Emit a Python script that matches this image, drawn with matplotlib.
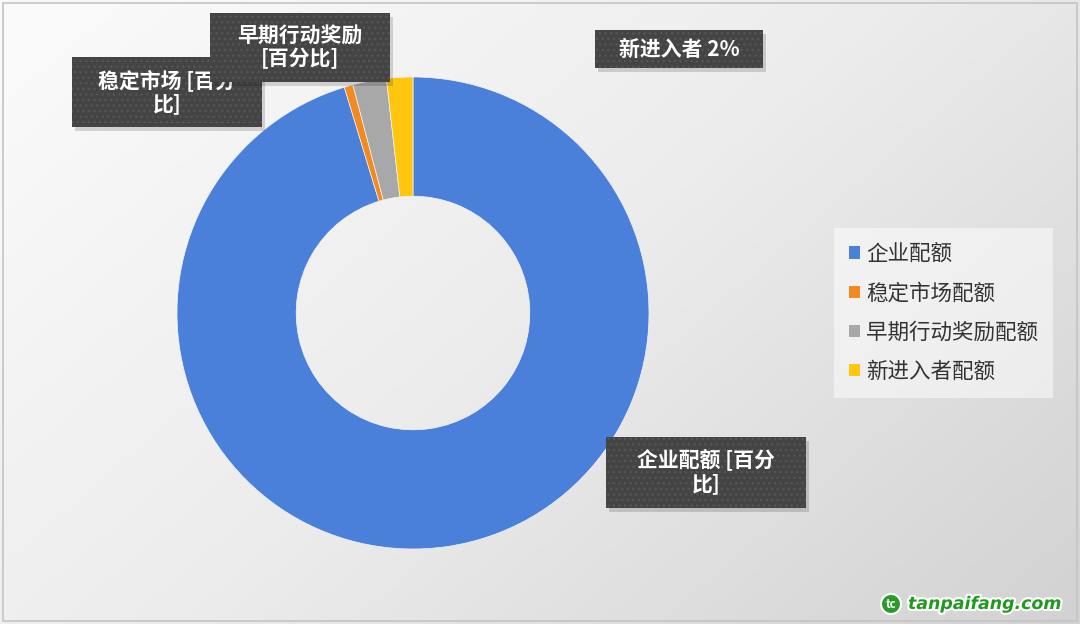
import numpy as np
import matplotlib.pyplot as plt
from matplotlib.patches import Rectangle, Patch, Circle
from matplotlib.colors import LinearSegmentedColormap
import matplotlib.patheffects as pe

plt.rcParams['font.family'] = ['Noto Sans CJK SC', 'DejaVu Sans']

# 数据
categories = ['企业配额', '稳定市场配额', '早期行动奖励配额', '新进入者配额']
shares = [95.3, 0.6, 2.3, 1.8]
colors = ['#4a80d9', '#f28a1f', '#a8a8a8', '#ffc610']
label_texts = ['企业配额 [百分\n比]', '稳定市场 [百分\n比]', '早期行动奖励\n[百分比]', '新进入者 2%']
# 标签框中心（像素）和尺寸
label_boxes = [(706, 472, 200, 71), (167, 92, 190, 70), (300, 47, 180, 69), (679, 49, 168, 38)]

W, H = 1080, 624
fig = plt.figure(figsize=(W / 100, H / 100), dpi=100)

# 背景渐变
bg = fig.add_axes([0, 0, 1, 1], zorder=0)
yy, xx = np.mgrid[0:1:200j, 0:1:300j]
grad = 0.6 * xx + 0.4 * yy
cmap = LinearSegmentedColormap.from_list('bg', ['#fbfbfb', '#ececec', '#d2d2d2'])
bg.imshow(grad, cmap=cmap, vmin=0, vmax=1, aspect='auto',
          extent=[0, 1, 0, 1], origin='upper')
bg.set_xlim(0, 1)
bg.set_ylim(0, 1)
bg.axis('off')
bg.add_patch(Rectangle((3 / W, 3 / H), 1 - 6 / W, 1 - 6 / H, fill=False,
                       edgecolor='#c4c4c4', lw=1.2))

# 圆环图
cx, cy, r = 413, 313, 236
ax = fig.add_axes([(cx - r) / W, 1 - (cy + r) / H, 2 * r / W, 2 * r / H], zorder=1)
ax.pie(shares, colors=colors, startangle=90, counterclock=False, radius=1,
       wedgeprops=dict(width=0.505, edgecolor='#f4f4f4', linewidth=0.5))
ax.set_xlim(-1, 1)
ax.set_ylim(-1, 1)
ax.set_aspect('equal')
ax.axis('off')

# 数据标签（深色点纹框）
ov = fig.add_axes([0, 0, 1, 1], zorder=2)
ov.set_xlim(0, W)
ov.set_ylim(H, 0)
ov.axis('off')
order = [0, 1, 2, 3]
for k, i in enumerate(order):
    x, y, w, h = label_boxes[i]
    z = 3 + 3 * k
    ov.add_patch(Rectangle((x - w / 2 + 3, y - h / 2 + 4), w, h, facecolor='black',
                           alpha=0.15, edgecolor='none', zorder=z))
    ov.add_patch(Rectangle((x - w / 2, y - h / 2), w, h, facecolor='#444444',
                           edgecolor='#555555', hatch='...', lw=0, zorder=z + 1))
    ov.text(x, y, label_texts[i], ha='center', va='center', color='white',
            fontsize=15, fontweight='bold', linespacing=1.1, zorder=z + 2)

# 图例
handles = [Patch(facecolor=c, edgecolor='none') for c in colors]
leg = fig.legend(handles, categories, loc='center left',
                 bbox_to_anchor=(823 / W, 1 - 313 / H), fontsize=15.5,
                 frameon=True, handlelength=0.5, handleheight=0.5,
                 handletextpad=0.3, labelspacing=0.8, borderpad=0.7,
                 fancybox=False)
leg.get_frame().set_facecolor('white')
leg.get_frame().set_alpha(0.5)
leg.get_frame().set_edgecolor('none')
leg.set_zorder(5)
for t in leg.get_texts():
    t.set_color('#333333')

# 水印
ov.add_patch(Circle((891, 604), 10, facecolor='#2a9a2a', edgecolor='white', lw=1.5, zorder=20))
ov.text(891, 604, 'tc', ha='center', va='center', color='white', fontsize=8,
        fontweight='bold', zorder=21)
ov.text(908, 604, 'tanpaifang.com', ha='left', va='center', color='#1f9a1f',
        fontsize=12.5, fontweight='bold', style='italic', family='DejaVu Sans',
        path_effects=[pe.withStroke(linewidth=3, foreground='white')], zorder=21)

fig.savefig('out.png', dpi=100)
